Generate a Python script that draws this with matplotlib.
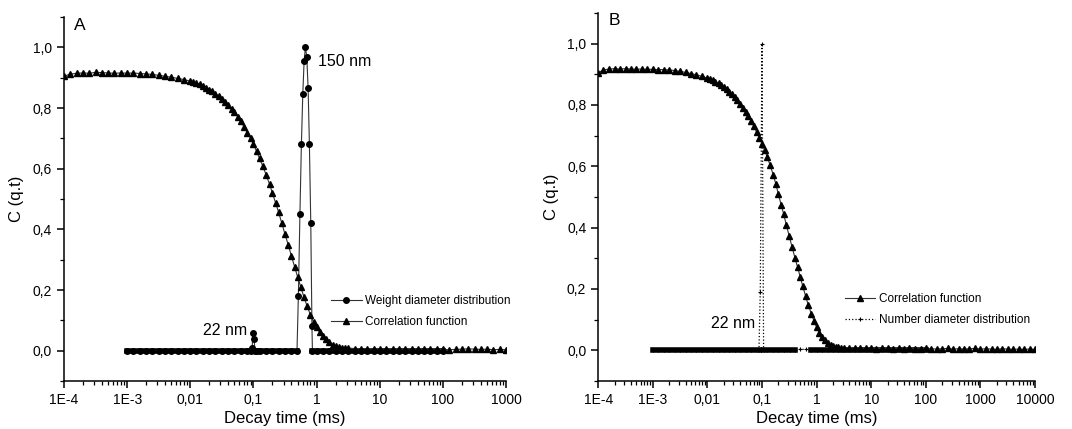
import numpy as np
import matplotlib.pyplot as plt
from matplotlib.ticker import FuncFormatter, LogLocator, MultipleLocator, NullFormatter

plt.rcParams['font.family'] = ['Liberation Sans', 'DejaVu Sans']

# Datos
corr_t = [1e-4, 1.25e-4, 1.6e-4, 2e-4, 2.5e-4, 3.2e-4, 4e-4, 5e-4, 6.3e-4, 8e-4,
          1e-3, 1.25e-3, 1.6e-3, 2e-3, 2.5e-3, 3.2e-3, 4e-3, 5e-3, 6.3e-3, 8e-3,
          0.01, 0.0112, 0.0125, 0.014, 0.016, 0.018, 0.02, 0.0224, 0.025, 0.028,
          0.0315, 0.0355, 0.04, 0.045, 0.05, 0.056, 0.063, 0.071, 0.08, 0.09,
          0.1, 0.112, 0.125, 0.14, 0.16, 0.18, 0.2, 0.224, 0.25, 0.28,
          0.315, 0.355, 0.4, 0.45, 0.5, 0.56, 0.63, 0.71, 0.8, 0.9,
          1.0, 1.12, 1.25, 1.4, 1.6, 1.8, 2.0, 2.24, 2.5, 2.8, 3.15,
          4, 5, 6.3, 8, 10, 12.5, 16, 20, 25, 32, 40, 50, 63, 80, 100,
          125, 160, 200, 250, 320, 400, 500, 630, 800, 1000]
corr_t_extra = [1250, 1600, 2000, 2500, 3200, 4000, 5000, 6300, 8000, 10000]

corr_a = [0.905, 0.912, 0.915, 0.916, 0.915, 0.918, 0.917, 0.916, 0.915, 0.916,
          0.915, 0.916, 0.914, 0.913, 0.911, 0.908, 0.905, 0.902, 0.898, 0.894,
          0.889, 0.886, 0.882, 0.878, 0.873, 0.867, 0.861, 0.855, 0.848, 0.840,
          0.831, 0.821, 0.810, 0.798, 0.786, 0.772, 0.756, 0.738, 0.719, 0.700,
          0.680, 0.658, 0.634, 0.610, 0.578, 0.549, 0.520, 0.488, 0.457, 0.422,
          0.385, 0.350, 0.312, 0.276, 0.244, 0.211, 0.177, 0.146, 0.118, 0.094,
          0.077, 0.060, 0.048, 0.038, 0.027, 0.020, 0.015, 0.012, 0.010, 0.009, 0.008,
          0.007, 0.006, 0.007, 0.005, 0.006, 0.005, 0.006, 0.004, 0.005, 0.006,
          0.005, 0.004, 0.006, 0.005, 0.004, 0.003, 0.004, 0.005, 0.006, 0.005,
          0.004, 0.005, 0.003, 0.004, 0.003]

corr_b = [0.905, 0.914, 0.917, 0.918, 0.917, 0.918, 0.917, 0.916, 0.917, 0.916,
          0.916, 0.915, 0.915, 0.914, 0.912, 0.909, 0.906, 0.902, 0.898, 0.893,
          0.887, 0.884, 0.880, 0.875, 0.870, 0.864, 0.858, 0.851, 0.843, 0.835,
          0.826, 0.815, 0.803, 0.791, 0.778, 0.764, 0.748, 0.730, 0.711, 0.692,
          0.672, 0.652, 0.630, 0.605, 0.573, 0.541, 0.508, 0.475, 0.443, 0.408,
          0.372, 0.337, 0.302, 0.270, 0.240, 0.208, 0.176, 0.146, 0.119, 0.095,
          0.075, 0.057, 0.043, 0.032, 0.024, 0.018, 0.014, 0.012, 0.010, 0.009, 0.008,
          0.007, 0.008, 0.006, 0.007, 0.006, 0.005, 0.007, 0.006, 0.005, 0.006,
          0.005, 0.006, 0.004, 0.005, 0.006, 0.005, 0.004, 0.005, 0.006, 0.004,
          0.005, 0.004, 0.005, 0.006, 0.004, 0.005, 0.004, 0.003, 0.005, 0.004,
          0.003, 0.004, 0.003, 0.004, 0.003]

# Distribucion en peso (A)
wd_t = [0.001, 0.00125, 0.0016, 0.002, 0.0025, 0.0032, 0.004, 0.005, 0.0063, 0.008,
        0.01, 0.0125, 0.016, 0.02, 0.025, 0.032, 0.04, 0.05, 0.063, 0.08, 0.09,
        0.095, 0.099, 0.102, 0.106,
        0.112, 0.125, 0.16, 0.2, 0.25, 0.32, 0.4, 0.49,
        0.515, 0.545, 0.575, 0.605, 0.635, 0.665, 0.70, 0.735, 0.77, 0.81, 0.845, 0.86,
        1.0, 1.25, 1.6, 2, 2.5, 3.2, 4, 5, 6.3, 8, 10, 12.5, 16, 20, 25, 32, 40, 50, 63, 80, 100]
wd_v = [0, 0, 0, 0, 0, 0, 0, 0, 0, 0,
        0, 0, 0, 0, 0, 0, 0, 0, 0, 0, 0,
        0.008, 0.057, 0.040, 0,
        0, 0, 0, 0, 0, 0, 0, 0,
        0.18, 0.45, 0.68, 0.845, 0.955, 1.0, 0.97, 0.865, 0.68, 0.42, 0.08, 0,
        0, 0, 0, 0, 0, 0, 0, 0, 0, 0, 0, 0, 0, 0, 0, 0, 0, 0, 0, 0, 0]

# Distribucion en numero (B)
nd_t = [0.001, 0.00125, 0.0016, 0.002, 0.0025, 0.0032, 0.004, 0.005, 0.0063, 0.008,
        0.01, 0.0125, 0.016, 0.02, 0.025, 0.032, 0.04, 0.05, 0.063, 0.08, 0.088,
        0.093, 0.1, 0.107,
        0.125, 0.16, 0.2, 0.25, 0.32, 0.4, 0.5, 0.63, 0.8,
        1, 1.25, 1.6, 2, 2.5, 3.2, 4, 5, 6.3, 8, 10, 12.5, 16, 20, 25, 32, 40, 50, 63, 80, 100]
nd_v = [0, 0, 0, 0, 0, 0, 0, 0, 0, 0,
        0, 0, 0, 0, 0, 0, 0, 0, 0, 0, 0,
        0.19, 1.0, 0,
        0, 0, 0, 0, 0, 0, 0.003, 0.003, 0,
        0, 0, 0, 0, 0, 0, 0, 0, 0, 0, 0, 0, 0, 0, 0, 0, 0, 0, 0, 0, 0]

ticks_a = [1e-4, 1e-3, 0.01, 0.1, 1, 10, 100, 1000]
labels_a = ["1E-4", "1E-3", "0,01", "0,1", "1", "10", "100", "1000"]
ticks_b = ticks_a + [10000]
labels_b = labels_a + ["10000"]


def style_axis(ax, ticks, labels, xmax):
    ax.set_xscale('log')
    ax.set_xlim(1e-4, xmax)
    ax.set_ylim(-0.1, 1.1)
    ax.set_xticks(ticks)
    ax.set_xticklabels(labels)
    ax.xaxis.set_minor_locator(LogLocator(base=10, subs=np.arange(2, 10), numticks=20))
    ax.xaxis.set_minor_formatter(NullFormatter())
    ax.yaxis.set_major_locator(MultipleLocator(0.2))
    ax.yaxis.set_minor_locator(MultipleLocator(0.1))
    ax.yaxis.set_major_formatter(FuncFormatter(lambda v, p: f"{v:.1f}".replace('.', ',')))
    ax.spines['top'].set_visible(False)
    ax.spines['right'].set_visible(False)
    for s in ('left', 'bottom'):
        ax.spines[s].set_linewidth(1.1)
    ax.tick_params(which='major', direction='out', length=5, width=1.1, labelsize=10)
    ax.tick_params(which='minor', direction='out', length=3, width=0.9)
    ax.set_xlabel("Decay time (ms)", fontsize=12, labelpad=3)
    ax.set_ylabel("C (q.t)", fontsize=12, labelpad=6)


def baseline(t, v):
    v = np.array(v, dtype=float)
    return np.array(t), np.where(v == 0, v, np.nan)


fig = plt.figure(figsize=(10.72, 4.29), dpi=100)
ax1 = fig.add_axes([0.0597, 0.112, 0.4123, 0.848])
ax2 = fig.add_axes([0.558, 0.112, 0.4075, 0.858])

# Panel A
bt, bv = baseline(wd_t, wd_v)
ax1.plot(bt, bv, color='black', lw=4, zorder=2)
ax1.plot(wd_t, wd_v, color='#333333', lw=0.8, marker='o', ms=4, mfc='black', mec='black',
         label="Weight diameter distribution", zorder=3)
ax1.plot(corr_t, corr_a, color='#333333', lw=0.8, marker='^', ms=4.5, mfc='black', mec='black',
         label="Correlation function", zorder=3)
style_axis(ax1, ticks_a, labels_a, 1000)
ax1.text(0.023, 0.978, "A", transform=ax1.transAxes, fontsize=12.5, va='center')
ax1.text(1.06, 0.953, "150 nm", fontsize=11.5, va='center')
ax1.text(0.079, 0.068, "22 nm", fontsize=11.5, va='center', ha='right')
ax1.legend(loc='center left', bbox_to_anchor=(0.58, 0.19), frameon=False, fontsize=8.5,
           handlelength=2.6, handletextpad=0.3, labelspacing=0.75, numpoints=1)

# Panel B
corr_tb = corr_t + corr_t_extra
bt, bv = baseline(nd_t, nd_v)
ax2.plot(bt, bv, color='black', lw=4, zorder=2)
ax2.plot(corr_tb, corr_b, color='#333333', lw=0.8, marker='^', ms=4.5, mfc='black', mec='black',
         label="Correlation function", zorder=3)
ax2.plot(nd_t, nd_v, color='black', lw=0.9, ls=':', marker='+', ms=3, mew=0.8,
         label="Number diameter distribution", zorder=3)
style_axis(ax2, ticks_b, labels_b, 10000)
ax2.text(0.025, 0.978, "B", transform=ax2.transAxes, fontsize=12.5, va='center')
ax2.text(0.075, 0.087, "22 nm", fontsize=11.5, va='center', ha='right')
ax2.legend(loc='center left', bbox_to_anchor=(0.54, 0.194), frameon=False, fontsize=8.5,
           handlelength=2.6, handletextpad=0.3, labelspacing=0.75, numpoints=1)

fig.savefig("out.png", dpi=100)
